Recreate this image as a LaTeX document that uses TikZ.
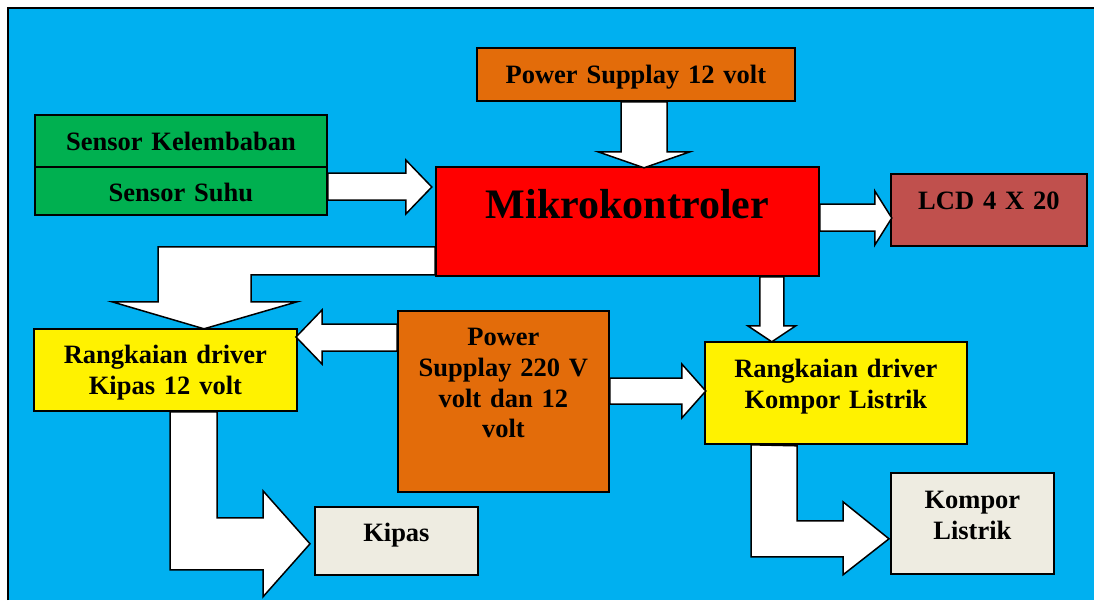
\documentclass[tikz,border=0pt]{standalone}
\usepackage{fontspec}
\setmainfont{Liberation Serif}

\definecolor{bgblue}{HTML}{00B0F0}
\definecolor{sensorgreen}{HTML}{00B050}
\definecolor{psorange}{HTML}{E36C0A}
\definecolor{lcdred}{HTML}{C0504D}
\definecolor{loadgrey}{HTML}{EEECE1}

\begin{document}
\begin{tikzpicture}[
  x=1pt, y=-1pt,
  box/.style={draw, line width=1.8pt, anchor=north west, inner sep=0pt,
    align=center, font=\fontsize{26.5}{30.6}\selectfont\bfseries},
  blockarrow/.style={draw, fill=white, line width=1.5pt, line join=miter}
]
\useasboundingbox (0,0) rectangle (1094,600);

% background
\fill[bgblue] (8,8) rectangle (1094,600);
\draw[line width=2pt] (8,600) -- (8,8) -- (1094,8);

% blocks
\node[box, fill=sensorgreen, text width=292pt, text height=36pt, text depth=16pt] (senkel) at (34,114) {Sensor Kelembaban};
\node[box, fill=sensorgreen, text width=292pt, text height=35pt, text depth=13pt] (sensuhu) at (34,166) {Sensor Suhu};
\node[box, fill=psorange, text width=318pt, text height=35.5pt, text depth=17.5pt] (ps12) at (476,47) {Power Supplay 12 volt};
\node[box, fill=red, text width=383pt, text height=52pt, text depth=57pt,
  font=\fontsize{42}{48}\selectfont\bfseries] (mikro) at (435,166) {Mikrokontroler};
\node[box, fill=lcdred, text width=196pt, text height=35.5pt, text depth=36.5pt] (lcd) at (890,173) {LCD 4 X 20};
\node[box, fill=yellow, text width=263pt, text height=35pt, text depth=47pt] (kipasdrv) at (33,328) {Rangkaian driver\\Kipas 12 volt};
\node[box, fill=psorange, text width=211pt, text height=35pt, text depth=146pt] (ps220) at (397,310) {Power\\Supplay 220 V\\volt dan 12\\volt};
\node[box, fill=yellow, text width=262pt, text height=36pt, text depth=66pt] (kompordrv) at (704,341) {Rangkaian driver\\Kompor Listrik};
\node[box, fill=loadgrey, text width=163pt, text height=35pt, text depth=33pt] (kipas) at (314,506) {Kipas};
\node[box, fill=loadgrey, text width=163pt, text height=36pt, text depth=65pt] (kompor) at (890,472) {Kompor\\Listrik};

% block arrows
\draw[blockarrow] (sensuhu.north east) ++(0,7) -- ++(78,0) -- ++(0,-13) -- ++(26,27) -- ++(-26,27) -- ++(0,-14) -- ++(-78,0) -- cycle;
\draw[blockarrow] (ps12.south west) ++(145,0) -- ++(0,50) -- ++(-23,0) -- ++(46,16) -- ++(46,-16) -- ++(-23,0) -- ++(0,-50) -- cycle;
\draw[blockarrow] (mikro.north east) ++(0,38) -- ++(55,0) -- ++(0,-13) -- ++(17,27) -- ++(-17,27) -- ++(0,-14) -- ++(-55,0) -- cycle;
\draw[blockarrow] (mikro.south west) ++(0,-30) -- ++(-277,0) -- ++(0,55) -- ++(-46,0) -- ++(92,27) -- ++(93,-27) -- ++(-46,0) -- ++(0,-27) -- ++(184,0) -- cycle;
\draw[blockarrow] (ps220.north west) ++(0,14) -- ++(-75,0) -- ++(0,-14) -- ++(-26,27) -- ++(26,27) -- ++(0,-13) -- ++(75,0) -- cycle;
\draw[blockarrow] (mikro.south east) ++(-60,0) -- ++(0,49) -- ++(-12,0) -- ++(24,16) -- ++(24,-16) -- ++(-12,0) -- ++(0,-49) -- cycle;
\draw[blockarrow] (ps220.north east) ++(0,68) -- ++(72,0) -- ++(0,-14) -- ++(24,27) -- ++(-24,27) -- ++(0,-14) -- ++(-72,0) -- cycle;
\draw[blockarrow] (kipasdrv.south west) ++(137,0) -- ++(0,158) -- ++(93,0) -- ++(0,27) -- ++(47,-53) -- ++(-47,-53) -- ++(0,27) -- ++(-46,0) -- ++(0,-106) -- cycle;
\draw[blockarrow] (kompordrv.south west) ++(47,0) -- ++(0,112) -- ++(92,0) -- ++(0,18) -- ++(46,-36) -- ++(-46,-37) -- ++(0,19) -- ++(-46,0) -- ++(0,-75) -- cycle;

\end{tikzpicture}
\end{document}
